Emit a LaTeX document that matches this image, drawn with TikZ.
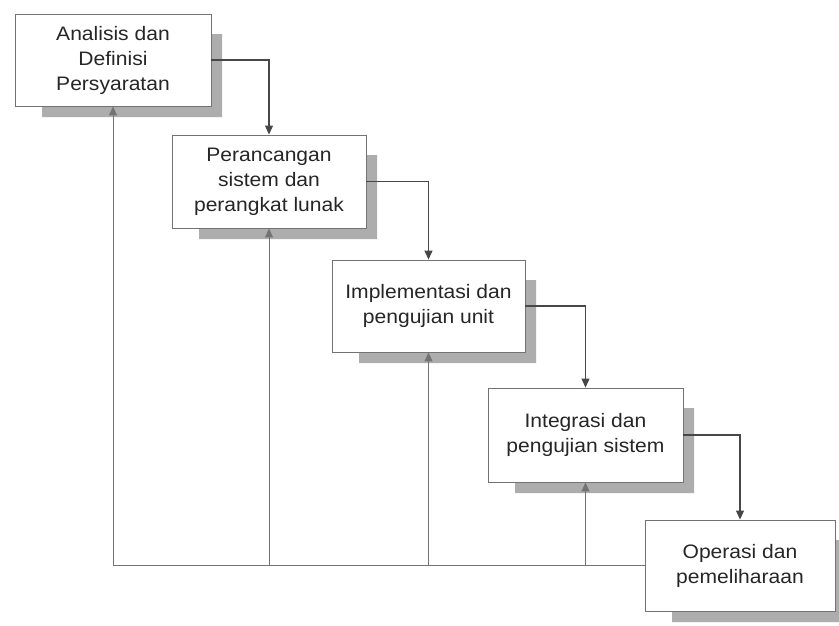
\documentclass[tikz,border=0pt]{standalone}
\usepackage{fontspec}
\setmainfont{Liberation Sans}[FakeStretch=1.08]
\usetikzlibrary{arrows.meta,calc}
\begin{document}
\begin{tikzpicture}[x=1pt,y=-1pt,
  phase/.style={draw=black!55,line width=0.9pt,fill=white,align=center,
    text=black!85,font=\fontsize{19.5}{25}\selectfont,inner sep=0pt},
  link/.style={draw=black!72,line width=1.1pt,-{Triangle[width=8pt,length=9pt]}},
  back/.style={draw=black!55,line width=1pt,-{Triangle[width=8pt,length=9pt]}}]
\useasboundingbox (0,0) rectangle (839,625);
\fill[white] (0,0) rectangle (839,625);
% shadows
\foreach \cx/\cy/\w/\h in {113/60/196/92, 269/181.5/194/93, 428.5/306/193/92, 585.5/435/195/94, 740/565.5/190/91}{
  \fill[black!32] (\cx+\w/2,\cy-\h/2+20) -- (\cx+\w/2+11,\cy-\h/2+20) -- (\cx+\w/2+11,\cy+\h/2+11)
    -- (\cx-\w/2+27,\cy+\h/2+11) -- (\cx-\w/2+27,\cy+\h/2) -- (\cx+\w/2,\cy+\h/2) -- cycle;
}
\node[phase,minimum width=196pt,minimum height=92pt] (b1) at (113,60) {Analisis dan\\Definisi\\Persyaratan};
\node[phase,minimum width=194pt,minimum height=93pt] (b2) at (269,181.5) {Perancangan\\sistem dan\\perangkat lunak};
\node[phase,minimum width=193pt,minimum height=92pt] (b3) at (428.5,306) {Implementasi dan\\pengujian unit};
\node[phase,minimum width=195pt,minimum height=94pt] (b4) at (585.5,435) {Integrasi dan\\pengujian sistem};
\node[phase,minimum width=190pt,minimum height=91pt] (b5) at (740,565.5) {Operasi dan\\pemeliharaan};
% forward flow
\draw[link] (b1.east) -| (b2.north);
\draw[link] (b2.east) -| (b3.north);
\draw[link] (b3.east) -| (b4.north);
\draw[link] (b4.east) -| (b5.north);
% feedback
\coordinate (c1) at (b1.south |- b5.west);
\coordinate (c2) at (b2.south |- b5.west);
\coordinate (c3) at (b3.south |- b5.west);
\coordinate (c4) at (b4.south |- b5.west);
\draw[draw=black!55,line width=1pt] (b5.west) -- (c1);
\draw[back] (c1) -- (b1.south);
\draw[back] (c2) -- (b2.south);
\draw[back] (c3) -- (b3.south);
\draw[back] (c4) -- (b4.south);
\end{tikzpicture}
\end{document}
